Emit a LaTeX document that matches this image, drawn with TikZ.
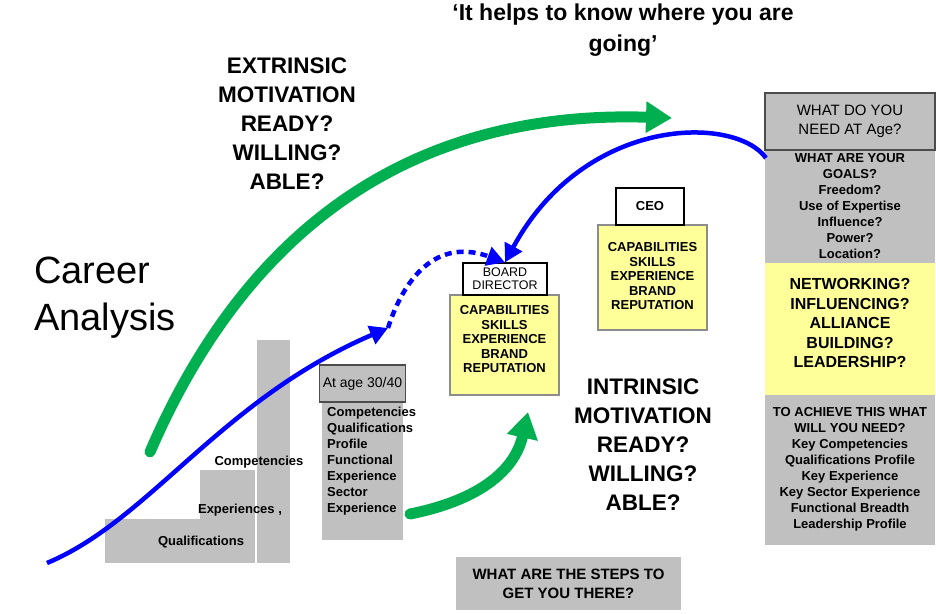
\documentclass[tikz,border=0pt]{standalone}
\usepackage{fontspec}
\setmainfont{Liberation Sans}
\usetikzlibrary{arrows.meta}
\definecolor{gr}{HTML}{C0C0C0}
\definecolor{yl}{HTML}{FFFF99}
\definecolor{gn}{HTML}{00B050}
\begin{document}
\begin{tikzpicture}[x=1pt,y=-1pt,
  grbox/.style={fill=gr,draw=none},
  ylbox/.style={fill=yl,draw=black!45,line width=1.2pt},
  wtbox/.style={fill=white,draw=black,line width=1.2pt},
  sm/.style={font=\fontsize{13}{14.5}\selectfont\bfseries,align=center},
  big/.style={font=\fontsize{22.5}{29}\selectfont\bfseries,align=center},
  gnarrow/.style={draw=gn,line width=11pt,line cap=round,-{Triangle[length=26pt,width=30pt]}},
  blarrow/.style={draw=blue,line width=4.5pt,-{Triangle[length=18pt,width=19pt]}}]
\useasboundingbox (0,0) rectangle (936,613);
% staircase
\fill[gr] (105,519) rectangle (200,563);
\fill[gr] (200,470) rectangle (255,563);
\fill[gr] (257,340) rectangle (290,563);
% arrows behind
\coordinate (g1s) at (150,452);
\coordinate (g1e) at (672,118);
\draw[gnarrow] (g1s) .. controls (250,220) and (420,110) .. (g1e);
\coordinate (b1s) at (47,563);
\coordinate (b1e) at (388,328);
\draw[blarrow] (b1s) .. controls (150,520) and (220,400) .. (b1e);
\node[sm] (q) at (201,542) {Qualifications};
\node[sm] (e) at (240,510) {Experiences ,};
\node[sm] (c) at (259,462) {Competencies};
% at age
\fill[gr] (322,402) rectangle (403,540);
\node[draw=black!70,fill=gr,line width=1.2pt,minimum width=81pt,minimum height=37pt,font=\fontsize{14}{17}\selectfont] (age) at (362.5,383.5) {At age 30/40};
\node[font=\fontsize{13}{16}\selectfont\bfseries,align=left,anchor=north west,inner sep=0pt] (agetxt) at (327,407) {Competencies\\Qualifications\\Profile\\Functional\\Experience\\Sector\\Experience};
% board director
\node[ylbox,minimum width=109pt,minimum height=100pt] (bdy) at (504.5,345) {};
\node[sm,anchor=north] at (504.5,302) {CAPABILITIES\\SKILLS\\EXPERIENCE\\BRAND\\REPUTATION};
\node[wtbox,minimum width=84pt,minimum height=32pt,sm,font=\fontsize{12.5}{13}\selectfont] (bd) at (505,279) {BOARD\\DIRECTOR};
% CEO
\node[ylbox,minimum width=109pt,minimum height=105pt] (cy) at (652.5,277.5) {};
\node[sm,anchor=north] at (652.5,239) {CAPABILITIES\\SKILLS\\EXPERIENCE\\BRAND\\REPUTATION};
\node[wtbox,minimum width=68pt,minimum height=37pt,sm] (ceo) at (650,206.5) {CEO};
% right column
\fill[gr] (765,150) rectangle (935,263);
\fill[gr] (765,395) rectangle (935,545);
\node[ylbox,draw=none,minimum width=170pt,minimum height=132pt] (ry) at (850,329) {};
\node[draw=black!70,fill=gr,line width=1.2pt,minimum width=170pt,minimum height=57pt,font=\fontsize{15}{19}\selectfont,align=center] (rh) at (850,121.5) {WHAT DO YOU\\NEED AT Age?};
\node[sm,anchor=north,font=\fontsize{13}{16}\selectfont\bfseries] at (850,150) {WHAT ARE YOUR\\GOALS?\\Freedom?\\Use of Expertise\\Influence?\\Power?\\Location?};
\node[anchor=north,align=center,font=\fontsize{16}{19.5}\selectfont\bfseries] at (850,275) {NETWORKING?\\INFLUENCING?\\ALLIANCE\\BUILDING?\\LEADERSHIP?};
\node[sm,anchor=north,font=\fontsize{13}{16}\selectfont\bfseries] at (850,404) {TO ACHIEVE THIS WHAT\\WILL YOU NEED?\\Key Competencies\\Qualifications Profile\\Key Experience\\Key Sector Experience\\Functional Breadth\\Leadership Profile};
% steps
\node[fill=gr,minimum width=225pt,minimum height=53pt,align=center,font=\fontsize{15}{19}\selectfont\bfseries] (steps) at (568.5,583.5) {WHAT ARE THE STEPS TO\\GET YOU THERE?};
% texts
\node[align=center,font=\fontsize{23}{31}\selectfont\bfseries] (title) at (623,30) {‘It helps to know where you are\\going’};
\node[big] (ext) at (287,124) {EXTRINSIC\\MOTIVATION\\READY?\\WILLING?\\ABLE?};
\node[big] (intr) at (643,445) {INTRINSIC\\MOTIVATION\\READY?\\WILLING?\\ABLE?};
\node[align=left,font=\fontsize{38}{47}\selectfont] (ca) at (105,298) {Career\\Analysis};
% other arrows
\coordinate (g2s) at (410,514);
\coordinate (g2e) at (528,412);
\draw[gnarrow] (g2s) .. controls (480,500) and (515,470) .. (g2e);
\draw[draw=blue,line width=4.5pt,dash pattern=on 7pt off 5pt,-{Triangle[length=18pt,width=19pt]}] (b1e) .. controls (400,290) and (430,235) .. (bd.north);
\coordinate (b2s) at (766,158);
\draw[blarrow] (b2s) .. controls (735,115) and (585,115) .. (bd.north);
\end{tikzpicture}
\end{document}
